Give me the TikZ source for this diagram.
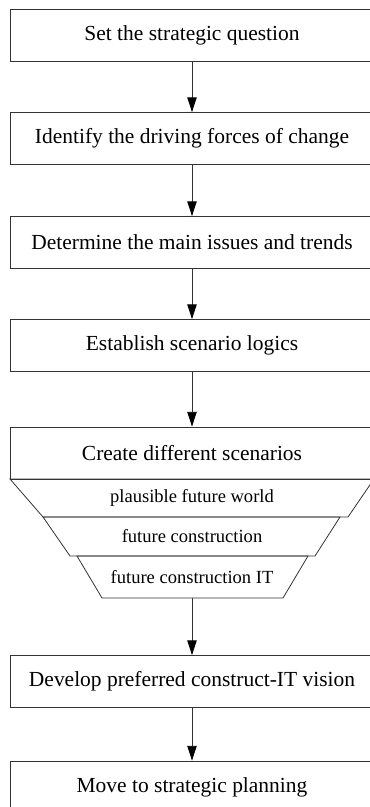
\documentclass[tikz,border=0pt]{standalone}
\usepackage{fontspec}
\setmainfont{Liberation Serif}
\usetikzlibrary{arrows.meta}
\newcommand{\mainsize}{\fontsize{16.1}{20}\selectfont}
\newcommand{\layersize}{\fontsize{13.9}{17}\selectfont}
\tikzstyle{stepbox}=[draw=black!80, line width=0.6pt, minimum width=273pt, minimum height=39pt, inner sep=0pt, font=\mainsize]
\tikzstyle{layer}=[inner sep=0pt, font=\layersize]
\tikzstyle{funnel}=[draw=black!80, line width=0.6pt, line join=miter]
\tikzstyle{flow} = [draw, black!80, line width=0.6pt, -{Triangle[length=11pt,width=7pt,fill=black,color=black]}]

\begin{document}
\begin{tikzpicture}[x=0.75pt, y=-0.75pt]
    \useasboundingbox (0,0) rectangle (369,807);

    % main steps
    \foreach \y/\name/\txt in {35/s1/Set the strategic question, 138.5/s2/Identify the driving forces of change, 242.5/s3/Determine the main issues and trends, 345.5/s4/Establish scenario logics, 453/s5/Create different scenarios, 681.5/s6/Develop preferred construct-IT vision, 787/s7/Move to strategic planning}
        \node[stepbox] (\name) at (192,\y) {\txt};

    % funnel below the scenarios box
    \draw[funnel] (10,479) -- (374,479) -- (348,517) -- (43,517) -- cycle;
    \draw[funnel] (43,517) -- (340,517) -- (315,556) -- (70,556) -- cycle;
    \draw[funnel] (77,556) -- (308,556) -- (283,598) -- (102,598) -- cycle;

    \node[layer] (t1) at (192,498) {plausible future world};
    \node[layer] (t2) at (192,536.5) {future construction};
    \node[layer] (t3) at (192,577) {future construction IT};
    \coordinate (t3b) at (192,598);

    \foreach \source/ \dest in {s1/s2, s2/s3, s3/s4, s4/s5, t3b/s6, s6/s7}
        \path[flow] (\source) -- (\dest);

\end{tikzpicture}
\end{document}
